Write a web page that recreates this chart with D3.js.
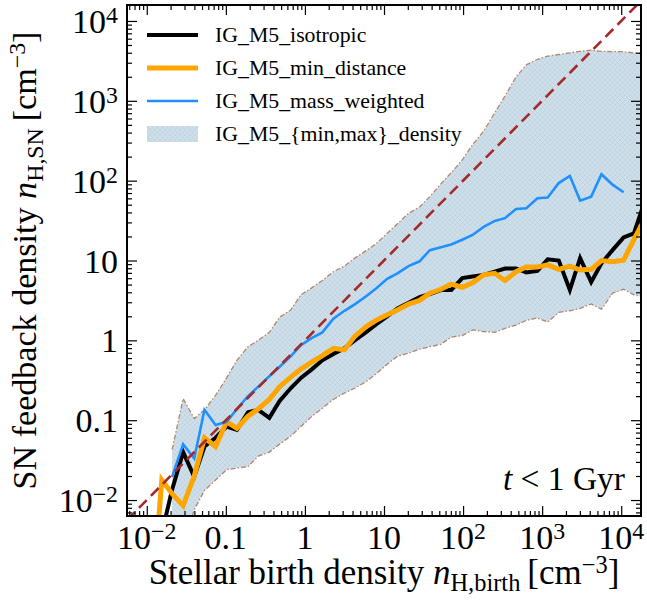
<!DOCTYPE html>
<html><head><meta charset="utf-8">
<script src="https://cdn.jsdelivr.net/npm/d3@7"></script>
<style>
body{margin:0;background:#fff}
svg{display:block}
text{font-family:"Liberation Serif","DejaVu Serif",serif;fill:#000}
</style>
</head><body>
<svg id="c" width="647" height="603"></svg>
<script>
// log10 of stellar birth density bin centres [cm^-3]
const logBirthDensity = [-1.95,-1.81,-1.68,-1.54,-1.40,-1.27,-1.13,-0.99,-0.86,-0.72,-0.59,-0.45,-0.32,-0.18,-0.05,0.09,0.22,0.36,0.50,0.63,0.77,0.90,1.04,1.17,1.31,1.45,1.58,1.72,1.85,1.99,2.12,2.26,2.40,2.53,2.67,2.80,2.94,3.07,3.21,3.35,3.48,3.62,3.75,3.89,4.03,4.16,4.30];
// log10 of SN feedback density for each series
const isotropic = [null,-2.42,-1.87,-1.40,-1.71,-1.33,-1.22,-1.08,-1.12,-0.90,-0.87,-0.97,-0.76,-0.60,-0.47,-0.36,-0.25,-0.17,-0.10,0.00,0.10,0.20,0.30,0.40,0.47,0.54,0.58,0.63,0.63,0.78,0.80,0.82,0.86,0.90,0.90,0.85,0.87,1.015,1.00,0.63,1.03,0.73,0.965,1.13,1.29,1.34,1.75];
const minDistance = [-3.5,-1.75,-1.92,-2.07,-1.70,-1.22,-1.33,-1.02,-1.10,-0.95,-0.86,-0.74,-0.58,-0.46,-0.36,-0.27,-0.19,-0.10,-0.12,0.05,0.17,0.25,0.32,0.38,0.455,0.50,0.59,0.64,0.705,0.665,0.72,0.82,0.84,0.75,0.86,0.92,0.92,0.945,0.89,0.93,0.88,0.89,1.00,0.985,1.005,1.26,1.53];
const massWeighted = [null,null,-1.71,-1.30,-1.48,-0.87,-1.06,-1.02,-0.86,-0.70,-0.58,-0.45,-0.33,-0.20,-0.06,0.03,0.10,0.27,0.37,0.45,0.55,0.65,0.77,0.84,0.93,0.99,1.13,1.165,1.20,1.26,1.32,1.42,1.495,1.53,1.645,1.655,1.78,1.79,1.97,2.06,1.75,1.80,2.08,1.95,1.855,null,null];
const densityMax = [null,null,-1.37,-0.73,-0.98,-0.87,-0.69,-0.47,-0.25,-0.08,0.00,0.10,0.29,0.38,0.57,0.66,0.75,0.86,0.93,1.03,1.12,1.21,1.34,1.46,1.59,1.67,1.80,1.96,2.10,2.26,2.45,2.62,2.85,3.06,3.30,3.45,3.52,3.56,3.58,3.60,3.62,3.635,3.62,3.615,3.615,3.60,3.59];
const densityMin = [null,null,-2.8,-2.6,-2.12,-1.88,-1.75,-1.62,-1.60,-1.58,-1.45,-1.40,-1.30,-1.20,-1.08,-0.95,-0.85,-0.74,-0.66,-0.60,-0.52,-0.42,-0.30,-0.20,-0.16,-0.11,-0.08,-0.05,0.04,0.06,0.13,0.11,0.10,0.15,0.19,0.25,0.28,0.23,0.35,0.37,0.40,0.455,0.39,0.59,0.64,0.57,0.54];

const seriesNames = ["IG_M5_isotropic","IG_M5_min_distance","IG_M5_mass_weighted","IG_M5_{min,max}_density"];
const tickValues = [0.01,0.1,1,10,100,1000,10000];
const tickLabels = [["10","\u22122"],["0.1",""],["1",""],["10",""],["10","2"],["10","3"],["10","4"]];
const xLimitsLog = [-2.25, 4.25];
const yLimitsLog = [-2.2, 4.2];

const L=127, R=641, T=5, B=516;
const svg = d3.select("#c");
const x = d3.scaleLog().domain(xLimitsLog.map(v=>Math.pow(10,v))).range([L,R]);
const y = d3.scaleLog().domain(yLimitsLog.map(v=>Math.pow(10,v))).range([B,T]);
const P = v => (v==null ? null : Math.pow(10,v));

const defs = svg.append("defs");
defs.append("clipPath").attr("id","clip").append("rect")
  .attr("x",L).attr("y",T).attr("width",R-L).attr("height",B-T);
const pat = defs.append("pattern").attr("id","hatch").attr("patternUnits","userSpaceOnUse")
  .attr("width",5).attr("height",5);
pat.append("rect").attr("width",5).attr("height",5).attr("fill","#cfdfea");
pat.append("path").attr("d","M0,0L5,5M5,0L0,5M-1,4L1,6M4,-1L6,1").attr("stroke","#b8cddc").attr("stroke-width",0.55).attr("fill","none");

const rows = logBirthDensity.map((lx,i)=>({x:P(lx), iso:P(isotropic[i]), md:P(minDistance[i]), mw:P(massWeighted[i]), lo:P(densityMin[i]), hi:P(densityMax[i])}));

const plot = svg.append("g").attr("clip-path","url(#clip)");

// band
const area = d3.area().defined(d=>d.lo!=null && d.hi!=null)
  .x(d=>x(d.x)).y0(d=>y(d.lo)).y1(d=>y(d.hi));
plot.append("path").datum(rows).attr("d",area).attr("fill","url(#hatch)");
const edgeStyle = p => p.attr("fill","none").attr("stroke","#b07a5c").attr("stroke-width",1.3)
  .attr("stroke-dasharray","5,2,1.5,2").attr("stroke-opacity",0.9);
["lo","hi"].forEach(k=>{
  const ln = d3.line().defined(d=>d[k]!=null && d.lo!=null && d.hi!=null).x(d=>x(d.x)).y(d=>y(d[k]));
  plot.append("path").datum(rows).attr("d",ln).call(edgeStyle);
});

// series
const series = [
  {key:"iso", color:"#000000", w:4},
  {key:"md", color:"#ffa500", w:5},
  {key:"mw", color:"#1e90ff", w:2.6}
];
series.forEach(s=>{
  const ln = d3.line().defined(d=>d[s.key]!=null).x(d=>x(d.x)).y(d=>y(d[s.key]));
  plot.append("path").datum(rows).attr("d",ln).attr("fill","none")
    .attr("stroke",s.color).attr("stroke-width",s.w).attr("stroke-linejoin","miter");
});

// one-to-one line
const dom = x.domain();
plot.append("path").datum(dom).attr("d",d3.line().x(d=>x(d)).y(d=>y(d)))
  .attr("fill","none").attr("stroke","#a52a2a").attr("stroke-width",2.6).attr("stroke-dasharray","11,6");

// axes with inward ticks on all sides
const minorX = x.ticks().filter(v=>!tickValues.includes(v));
const minorY = y.ticks().filter(v=>!tickValues.includes(v));
function ax(gen, tr, vals, size){
  const g = svg.append("g").attr("transform",tr)
    .call(gen.tickValues(vals).tickSizeInner(-size).tickSizeOuter(0).tickFormat(""));
  g.select(".domain").remove();
  g.selectAll(".tick line").attr("stroke","#000").attr("stroke-width",1.2);
}
ax(d3.axisBottom(x), `translate(0,${B})`, tickValues, 10);
ax(d3.axisBottom(x), `translate(0,${B})`, minorX, 5);
ax(d3.axisTop(x), `translate(0,${T})`, tickValues, 10);
ax(d3.axisTop(x), `translate(0,${T})`, minorX, 5);
ax(d3.axisLeft(y), `translate(${L},0)`, tickValues, 10);
ax(d3.axisLeft(y), `translate(${L},0)`, minorY, 5);
ax(d3.axisRight(y), `translate(${R},0)`, tickValues, 10);
ax(d3.axisRight(y), `translate(${R},0)`, minorY, 5);
svg.append("rect").attr("x",L).attr("y",T).attr("width",R-L).attr("height",B-T)
  .attr("fill","none").attr("stroke","#000").attr("stroke-width",2);

// tick labels
const TF = 34;
function label(g, lab){
  g.append("tspan").text(lab[0]);
  if(lab[1]) g.append("tspan").attr("dy","-0.42em").attr("font-size","0.7em").text(lab[1]);
}
tickValues.forEach((v,i)=>{
  const t = svg.append("text").attr("x",x(v)).attr("y",549).attr("text-anchor","middle").attr("font-size",TF);
  label(t, tickLabels[i]);
  const u = svg.append("text").attr("x",118).attr("y",y(v)+12).attr("text-anchor","end").attr("font-size",TF);
  label(u, tickLabels[i]);
});

function fitWidth(sel, target){
  const w = sel.node().getBBox().width;
  const fs = parseFloat(sel.attr("font-size"));
  sel.attr("font-size", fs*target/w);
}
function quantityLabel(t, pre, sub){
  t.append("tspan").text(pre);
  t.append("tspan").attr("font-style","italic").text("n");
  t.append("tspan").attr("font-size","0.7em").attr("dy","0.3em").text(sub);
  t.append("tspan").attr("dy","-0.21em").text("\u2009[cm");
  t.append("tspan").attr("font-size","0.7em").attr("dy","-0.45em").text("\u22123");
  t.append("tspan").attr("dy","0.315em").text("]");
}
// x label
const xl = svg.append("text").attr("x",(L+R)/2).attr("y",584).attr("text-anchor","middle").attr("font-size",30);
quantityLabel(xl, "Stellar birth density ", "H,birth");
fitWidth(xl, 471);
// y label
const yl = svg.append("text").attr("transform",`translate(36,${(T+B)/2}) rotate(-90)`)
  .attr("text-anchor","middle").attr("font-size",30);
quantityLabel(yl, "SN feedback density ", "H,SN");
fitWidth(yl, 458);

// annotation
const an = svg.append("text").attr("x",625).attr("y",490).attr("text-anchor","end").attr("font-size",25);
an.append("tspan").attr("font-style","italic").text("t");
an.append("tspan").text(" < 1 Gyr");
fitWidth(an, 123);

// legend
const lg = svg.append("g");
const ly0 = 35, dyL = 33;
series.forEach((s,i)=>{
  lg.append("line").attr("x1",147).attr("x2",198).attr("y1",ly0+i*dyL).attr("y2",ly0+i*dyL)
    .attr("stroke",s.color).attr("stroke-width",s.w);
});
lg.append("rect").attr("x",147).attr("y",ly0+3*dyL-8).attr("width",51).attr("height",16).attr("fill","url(#hatch)");
const legTexts = seriesNames.map((n,i)=>
  lg.append("text").attr("x",215).attr("y",ly0+i*dyL+7).attr("font-size",20).text(n));
fitWidth(legTexts[3], 247);
legTexts.forEach(t=>t.attr("font-size", legTexts[3].attr("font-size")));
</script>
</body></html>
